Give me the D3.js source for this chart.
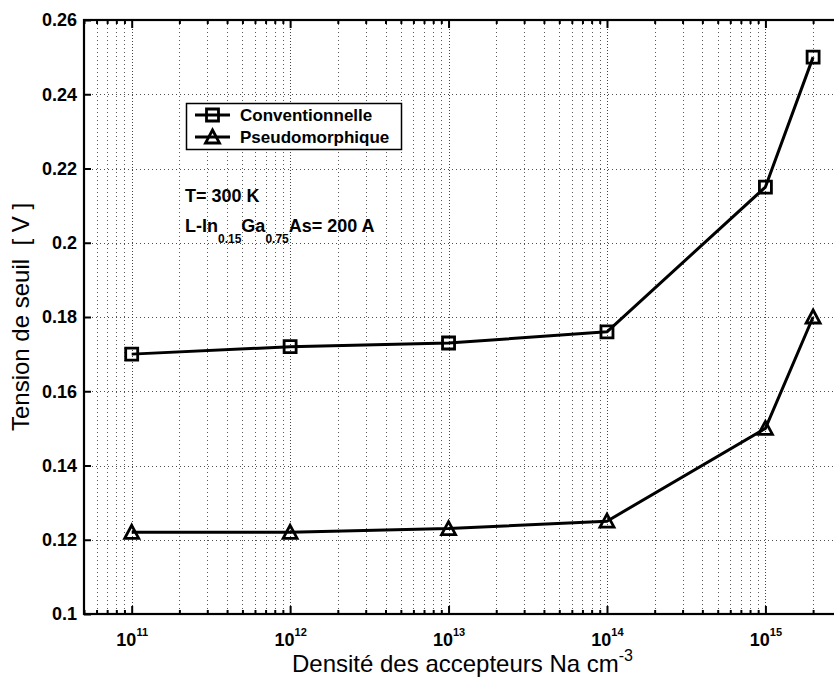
<!DOCTYPE html>
<html>
<head>
<meta charset="utf-8">
<script src="https://cdn.jsdelivr.net/npm/d3@7"></script>
<style>
  html, body { margin: 0; padding: 0; background: #fff; }
  svg { display: block; font-family: "Liberation Sans", Arial, Helvetica, sans-serif; }
</style>
</head>
<body>
<svg id="chart" width="834" height="684"></svg>
<script>
// Acceptor density (cm^-3) and threshold voltage (V)
const densities = [1e11, 1e12, 1e13, 1e14, 1e15, 2e15];
const conventionnelle = [0.170, 0.172, 0.173, 0.176, 0.215, 0.250];
const pseudomorphique = [0.122, 0.122, 0.123, 0.125, 0.150, 0.180];

const seriesNames = ["Conventionnelle", "Pseudomorphique"];
const xMajorTicks = [1e11, 1e12, 1e13, 1e14, 1e15];
const xTickExponents = ["11", "12", "13", "14", "15"];
const yTicks = [0.1, 0.12, 0.14, 0.16, 0.18, 0.2, 0.22, 0.24, 0.26];
const yTickLabels = ["0.1", "0.12", "0.14", "0.16", "0.18", "0.2", "0.22", "0.24", "0.26"];

const svg = d3.select("#chart");
const plot = { left: 84, right: 841, top: 20, bottom: 614 };

const x = d3.scaleLog().domain([5e10, 3e15]).range([plot.left, plot.right]);
const y = d3.scaleLinear().domain([0.1, 0.26]).range([plot.bottom, plot.top]);

// minor positions 2..9 x 10^k inside the domain
const [x0, x1] = x.domain();
const xMinorTicks = [];
for (let e = Math.floor(Math.log10(x0)); e <= Math.ceil(Math.log10(x1)); e++) {
  for (let m = 2; m <= 9; m++) {
    const v = m * Math.pow(10, e);
    if (v >= x0 && v <= x1) xMinorTicks.push(v);
  }
}

// dotted grid
const grid = svg.append("g").attr("stroke", "#222").attr("stroke-width", 1).attr("fill", "none");
grid.selectAll("line.vminor").data(xMinorTicks.filter(v => v > x0)).join("line")
  .attr("x1", d => Math.round(x(d)) + 0.5).attr("x2", d => Math.round(x(d)) + 0.5)
  .attr("y1", plot.top).attr("y2", plot.bottom)
  .attr("stroke-dasharray", "1,3").attr("stroke-opacity", 0.75);
grid.selectAll("line.vmajor").data(xMajorTicks).join("line")
  .attr("x1", d => Math.round(x(d)) + 0.5).attr("x2", d => Math.round(x(d)) + 0.5)
  .attr("y1", plot.top).attr("y2", plot.bottom)
  .attr("stroke-dasharray", "1,2").attr("stroke-opacity", 0.85);
grid.selectAll("line.h").data(yTicks.slice(1, -1)).join("line")
  .attr("x1", plot.left).attr("x2", plot.right)
  .attr("y1", d => Math.round(y(d)) + 0.5).attr("y2", d => Math.round(y(d)) + 0.5)
  .attr("stroke-dasharray", "1,3").attr("stroke-opacity", 0.8);

// axes with inward ticks
function styleAxis(g) {
  g.select(".domain").remove();
  g.selectAll(".tick line").attr("stroke", "#000").attr("stroke-width", 2);
}
svg.append("g").attr("transform", `translate(0,${plot.bottom})`)
  .call(d3.axisBottom(x).tickValues(xMinorTicks).tickSize(-4).tickFormat(""))
  .call(styleAxis);
svg.append("g").attr("transform", `translate(0,${plot.top})`)
  .call(d3.axisTop(x).tickValues(xMinorTicks).tickSize(-4).tickFormat(""))
  .call(styleAxis);
svg.append("g").attr("transform", `translate(0,${plot.top})`)
  .call(d3.axisTop(x).tickValues(xMajorTicks).tickSize(-8).tickFormat(""))
  .call(styleAxis);

const xAxis = svg.append("g").attr("transform", `translate(0,${plot.bottom})`)
  .call(d3.axisBottom(x).tickValues(xMajorTicks).tickSize(-8).tickPadding(14).tickFormat(""))
  .call(styleAxis);
xAxis.selectAll(".tick text").each(function (d, i) {
  const t = d3.select(this)
    .attr("fill", "#000").attr("font-size", 18).attr("font-weight", "bold")
    .attr("font-family", "Liberation Sans, Arial, sans-serif")
    .attr("text-anchor", "middle").attr("dy", "1em");
  t.append("tspan").text("10");
  t.append("tspan").attr("font-size", 11).attr("dy", "-0.95em").text(xTickExponents[i]);
});

const yAxis = svg.append("g").attr("transform", `translate(${plot.left},0)`)
  .call(d3.axisLeft(y).tickValues(yTicks).tickSize(-7).tickPadding(7)
    .tickFormat((d, i) => yTickLabels[i]))
  .call(styleAxis);
yAxis.selectAll(".tick text")
  .attr("fill", "#000").attr("font-size", 18).attr("font-weight", "bold")
  .attr("font-family", "Liberation Sans, Arial, sans-serif");

// frame
svg.append("rect")
  .attr("x", plot.left).attr("y", plot.top)
  .attr("width", plot.right - plot.left).attr("height", plot.bottom - plot.top)
  .attr("fill", "none").attr("stroke", "#000").attr("stroke-width", 2.2);

// series
const line = d3.line().x(d => x(d[0])).y(d => y(d[1]));
const convData = densities.map((d, i) => [d, conventionnelle[i]]);
const pseudoData = densities.map((d, i) => [d, pseudomorphique[i]]);

const squarePath = "M-6,-6H6V6H-6Z";
const trianglePath = "M0,-7L7,6H-7Z";

function drawSeries(data, markerPath) {
  svg.append("path").datum(data).attr("d", line)
    .attr("fill", "none").attr("stroke", "#000").attr("stroke-width", 3)
    .attr("stroke-linejoin", "round");
  svg.append("g").selectAll("path").data(data).join("path")
    .attr("transform", d => `translate(${x(d[0])},${y(d[1])})`)
    .attr("d", markerPath)
    .attr("fill", "none").attr("stroke", "#000").attr("stroke-width", 2.8)
    .attr("stroke-linejoin", "miter");
}
drawSeries(convData, squarePath);
drawSeries(pseudoData, trianglePath);

// legend
const legend = svg.append("g");
legend.append("rect").attr("x", 186.5).attr("y", 103.5).attr("width", 215).attr("height", 46)
  .attr("fill", "#fff").attr("stroke", "#000").attr("stroke-width", 1.5);
[squarePath, trianglePath].forEach((mp, i) => {
  const ly = 115 + i * 22;
  legend.append("line").attr("x1", 195).attr("x2", 230).attr("y1", ly).attr("y2", ly)
    .attr("stroke", "#000").attr("stroke-width", 3);
  legend.append("path").attr("transform", `translate(212.5,${ly})`).attr("d", mp)
    .attr("fill", "none").attr("stroke", "#000").attr("stroke-width", 2.8);
  legend.append("text").attr("x", 240).attr("y", ly + 6)
    .attr("font-size", 17).attr("font-weight", "bold").attr("fill", "#000")
    .text(seriesNames[i]);
});

// annotations
svg.append("text").attr("x", 185).attr("y", 202)
  .attr("font-size", 18).attr("font-weight", "bold").attr("fill", "#000")
  .text("T= 300 K");
const ann = svg.append("text").attr("x", 185).attr("y", 232)
  .attr("font-size", 18).attr("font-weight", "bold").attr("fill", "#000");
ann.append("tspan").text("L-In");
ann.append("tspan").attr("font-size", 12).attr("dy", 11).text("0.15");
ann.append("tspan").attr("dy", -11).text("Ga");
ann.append("tspan").attr("font-size", 12).attr("dy", 11).text("0.75");
ann.append("tspan").attr("dy", -11).text("As= 200 A");

// axis titles
const xl = svg.append("text").attr("x", (plot.left + plot.right) / 2).attr("y", 672)
  .attr("text-anchor", "middle").attr("font-size", 24).attr("fill", "#000");
xl.append("tspan").text("Densité des accepteurs Na cm");
xl.append("tspan").attr("font-size", 16).attr("dy", -11).text("-3");

svg.append("text")
  .attr("transform", `translate(29,${(plot.top + plot.bottom) / 2}) rotate(-90)`)
  .attr("text-anchor", "middle").attr("font-size", 24).attr("fill", "#000")
  .attr("xml:space", "preserve").style("white-space", "pre")
  .text("Tension de seuil  [ V ]");
</script>
</body>
</html>
